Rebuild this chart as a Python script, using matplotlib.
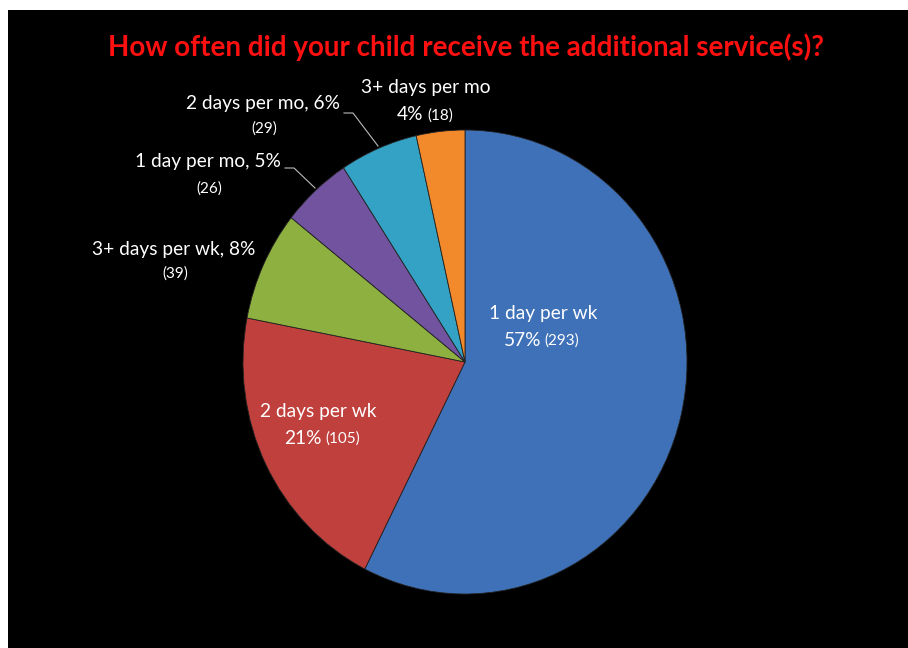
import matplotlib
matplotlib.use('Agg')
import matplotlib.pyplot as plt
from matplotlib.patches import Rectangle

# survey answers, clockwise from 12 o'clock
labels = ["1 day per wk", "2 days per wk", "3+ days per wk",
          "1 day per mo", "2 days per mo", "3+ days per mo"]
counts = [293, 105, 39, 26, 29, 18]
percents = [57, 21, 8, 5, 6, 4]
colors = ["#3F71B8", "#C0403D", "#8EB040", "#7253A0", "#34A2C4", "#F2892B"]

W, H = 908, 648
fig = plt.figure(figsize=(W / 100, H / 100), dpi=100, facecolor="white")

# black panel behind everything
bg = fig.add_axes([0, 0, 1, 1], zorder=0)
bg.set_xlim(0, W)
bg.set_ylim(H, 0)
bg.axis("off")
bg.add_patch(Rectangle((8, 10), W - 8, H - 10, facecolor="black", edgecolor="none"))

# pie, slightly taller than wide
cx, cy, rx, ry = 465, 362, 222, 232
pie_ax = fig.add_axes([(cx - rx) / W, (H - cy - ry) / H, 2 * rx / W, 2 * ry / H], zorder=1)
wedges, _ = pie_ax.pie(counts, colors=colors, startangle=90, counterclock=False,
                       wedgeprops=dict(edgecolor="#222222", linewidth=0.6))
pie_ax.set_aspect("auto")
pie_ax.set_xlim(-1, 1)
pie_ax.set_ylim(-1, 1)
pie_ax.patch.set_alpha(0)

# pixel-space overlay for the text and leader lines
top = fig.add_axes([0, 0, 1, 1], zorder=2)
top.set_xlim(0, W)
top.set_ylim(H, 0)
top.axis("off")
top.patch.set_alpha(0)

font = "Lato"
top.text(466, 47, "How often did your child receive the additional service(s)?",
         color="#FF1010", fontsize=20, fontweight="bold", family=font,
         ha="center", va="center")

txt = dict(color="white", family=font, va="center")
big, small = 13.8, 11


def two_line(x, y1, y2, head, pct, cnt, dx=0):
    top.text(x, y1, head, ha="center", fontsize=big, **txt)
    top.text(x + dx, y2, f"{pct}%", ha="right", fontsize=big, **txt)
    top.text(x + dx + 3, y2 + 1, f"({cnt})", ha="left", fontsize=small, **txt)


# labels inside the two big slices
two_line(543, 313, 340, labels[0], percents[0], counts[0], dx=-2)
two_line(318, 411, 438, labels[1], percents[1], counts[1], dx=4)

# outside labels
top.text(174, 249, f"{labels[2]}, {percents[2]}%", ha="center", fontsize=big, **txt)
top.text(175, 274, f"({counts[2]})", ha="center", fontsize=small, **txt)

top.text(208, 162, f"{labels[3]}, {percents[3]}%", ha="center", fontsize=big, **txt)
top.text(209, 189, f"({counts[3]})", ha="center", fontsize=small, **txt)

top.text(263, 103, f"{labels[4]}, {percents[4]}%", ha="center", fontsize=big, **txt)
top.text(264, 129, f"({counts[4]})", ha="center", fontsize=small, **txt)

top.text(426, 87, labels[5], ha="center", fontsize=big, **txt)
top.text(423, 115, f"{percents[5]}%", ha="right", fontsize=big, **txt)
top.text(427, 116, f"({counts[5]})", ha="left", fontsize=small, **txt)

# leader lines to the two small slices
top.plot([285, 294, 315], [168, 168, 188], color="#BBBBBB", lw=0.8)
top.plot([344, 353, 378], [113, 113, 146], color="#BBBBBB", lw=0.8)

fig.savefig("out.png", dpi=100, facecolor="white")
